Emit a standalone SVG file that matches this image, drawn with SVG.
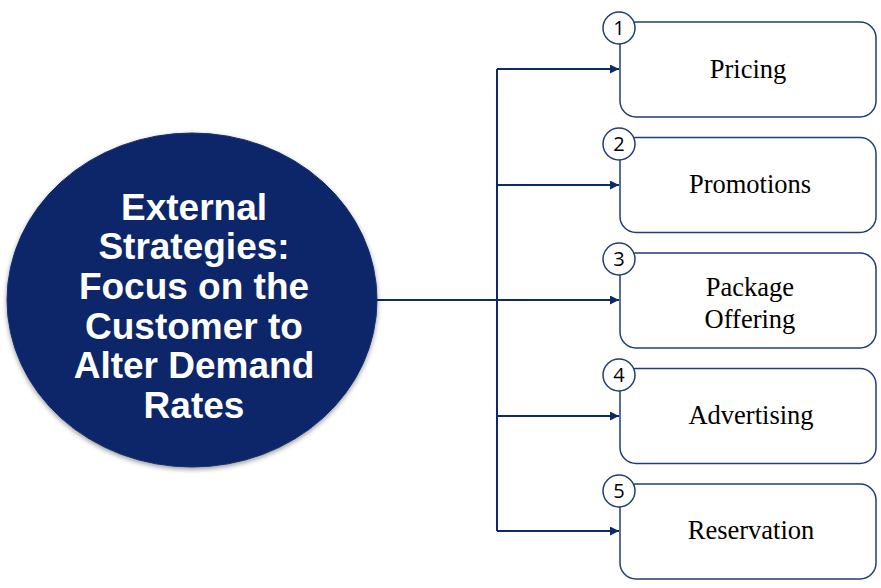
<svg xmlns="http://www.w3.org/2000/svg" width="881" height="588" viewBox="0 0 881 588">
<style>
.box{fill:#ffffff;stroke:#1f3d78;stroke-width:1.5}
.num{fill:#ffffff;stroke:#1f3d78;stroke-width:1.5}
.numt{font-family:"Open Sans","Liberation Sans",sans-serif;font-size:20px;fill:#000;text-anchor:middle}
.lbl{font-family:"Liberation Serif","Times New Roman",serif;font-size:26.5px;fill:#000;text-anchor:middle}
.conn{fill:none;stroke:#0c2a68;stroke-width:2}
.main{font-family:"Liberation Sans",Arial,sans-serif;font-weight:bold;font-size:37px;fill:#ffffff;text-anchor:middle}
</style>
<defs>
<marker id="arr" viewBox="0 0 10 10" refX="10" refY="5" markerWidth="4.5" markerHeight="4.5" orient="auto" markerUnits="strokeWidth">
<path d="M0,0 L10,5 L0,10 z" fill="#0c2a68"/>
</marker>
<filter id="sh" x="-10%" y="-10%" width="120%" height="120%">
<feGaussianBlur in="SourceAlpha" stdDeviation="2.5"/>
<feOffset dx="0" dy="2" result="b"/>
<feComponentTransfer><feFuncA type="linear" slope="0.4"/></feComponentTransfer>
<feMerge><feMergeNode/><feMergeNode in="SourceGraphic"/></feMerge>
</filter>
</defs>
<g id="connectors">
<path class="conn" d="M376,300 H497"/>
<path class="conn" d="M497,69 V531"/>
<path class="conn" d="M497,69 H619" marker-end="url(#arr)"/>
<path class="conn" d="M497,185 H619" marker-end="url(#arr)"/>
<path class="conn" d="M497,300 H619" marker-end="url(#arr)"/>
<path class="conn" d="M497,416 H619" marker-end="url(#arr)"/>
<path class="conn" d="M497,531 H619" marker-end="url(#arr)"/>
</g>
<g id="center">
<ellipse cx="192" cy="300" rx="185" ry="167" fill="#082769" stroke="#142f6a" stroke-width="1" filter="url(#sh)"/>
<text class="main" x="194" y="220">External</text>
<text class="main" x="194" y="259">Strategies:</text>
<text class="main" x="194" y="299">Focus on the</text>
<text class="main" x="194" y="339">Customer to</text>
<text class="main" x="194" y="378">Alter Demand</text>
<text class="main" x="194" y="418">Rates</text>
</g>
<g id="n1">
<rect class="box" x="620" y="22" width="256" height="95" rx="16"/>
<circle class="num" cx="619" cy="28" r="16"/>
<text class="numt" x="619" y="35">1</text>
<text class="lbl" x="748" y="78">Pricing</text>
</g>
<g id="n2">
<rect class="box" x="620" y="137.5" width="256" height="95" rx="16"/>
<circle class="num" cx="619" cy="144" r="16"/>
<text class="numt" x="619" y="151">2</text>
<text class="lbl" x="750" y="193">Promotions</text>
</g>
<g id="n3">
<rect class="box" x="620" y="253" width="256" height="95" rx="16"/>
<circle class="num" cx="619" cy="259" r="16"/>
<text class="numt" x="619" y="266">3</text>
<text class="lbl" x="750" y="296">Package</text>
<text class="lbl" x="750" y="328">Offering</text>
</g>
<g id="n4">
<rect class="box" x="620" y="368.5" width="256" height="95" rx="16"/>
<circle class="num" cx="619" cy="375" r="16"/>
<text class="numt" x="619" y="382">4</text>
<text class="lbl" x="751" y="424">Advertising</text>
</g>
<g id="n5">
<rect class="box" x="620" y="484" width="256" height="95" rx="16"/>
<circle class="num" cx="619" cy="491" r="16"/>
<text class="numt" x="619" y="498">5</text>
<text class="lbl" x="751" y="539">Reservation</text>
</g>
</svg>
